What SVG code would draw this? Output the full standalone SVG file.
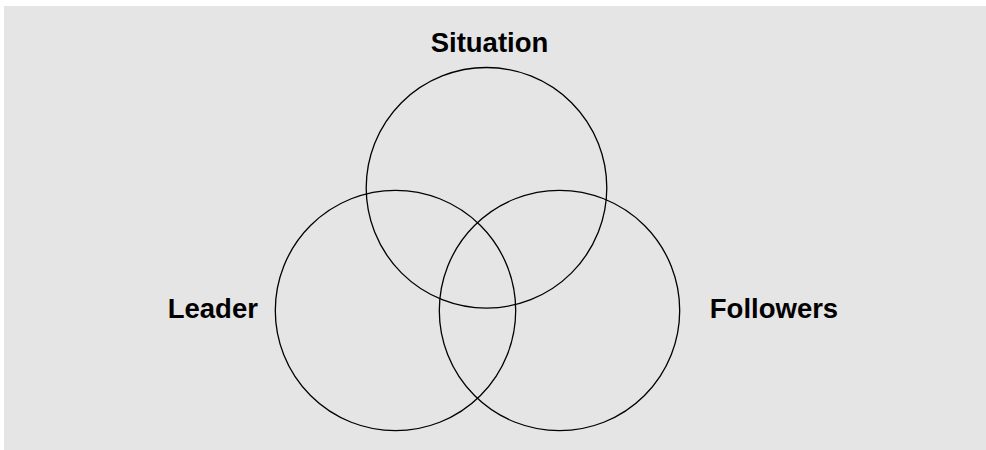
<svg xmlns="http://www.w3.org/2000/svg" width="986" height="450" viewBox="0 0 986 450">
<style>
.c{fill:none;stroke:#000;stroke-width:1.3}
.t{font-family:"Liberation Sans",Arial,sans-serif;font-weight:bold;font-size:27.5px;fill:#000;text-anchor:middle}
</style>
<rect x="4" y="6" width="982" height="444" fill="#e5e5e5"/>
<g id="situation">
<circle class="c" cx="486.5" cy="187.8" r="120.3"/>
<text class="t" x="489.5" y="52.3">Situation</text>
</g>
<g id="leader">
<circle class="c" cx="395.5" cy="310.5" r="120.2"/>
<text class="t" x="212.8" y="318.3">Leader</text>
</g>
<g id="followers">
<circle class="c" cx="559.5" cy="310.5" r="120.2"/>
<text class="t" x="774" y="318.3">Followers</text>
</g>
<g id="connectors"/>
</svg>
